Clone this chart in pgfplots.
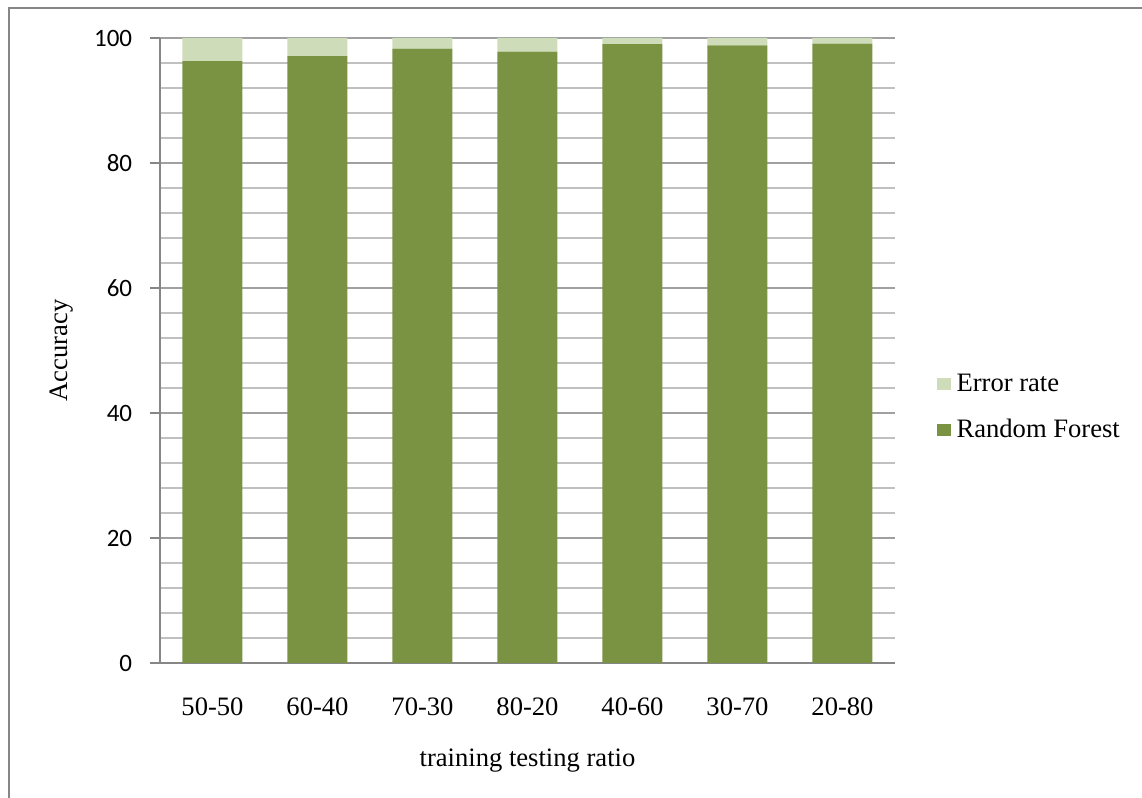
\documentclass[border=0pt]{standalone}
\usepackage{pgfplots}
\pgfplotsset{compat=1.18}
\usepackage{fontspec}
\setmainfont{Liberation Serif}
\newfontfamily\calibri{Carlito}
\definecolor{rf}{RGB}{122,147,67}
\definecolor{er}{RGB}{207,220,185}
\definecolor{axisgray}{RGB}{134,134,134}
\definecolor{gridmaj}{RGB}{160,160,160}
\definecolor{gridmin}{RGB}{192,192,192}
\begin{document}
\begin{tikzpicture}[x=1pt,y=1pt]
\useasboundingbox (0,0) rectangle (571,399);
\draw[axisgray, line width=1pt] (4.5,0) -- (4.5,395) -- (571,395);
\begin{axis}[
  at={(80pt,67.5pt)}, anchor=south west,
  scale only axis, width=367.5pt, height=312.5pt,
  xmin=-0.5, xmax=6.5, ymin=0, ymax=100,
  ybar stacked, bar width=30pt,
  xtick={0,...,6},
  xticklabels={50-50,60-40,70-30,80-20,40-60,30-70,20-80},
  ytick={0,20,...,100},
  minor ytick={4,8,12,16,24,28,32,36,44,48,52,56,64,68,72,76,84,88,92,96},
  ymajorgrids, yminorgrids,
  major grid style={gridmaj, line width=1pt},
  minor grid style={gridmin, line width=1pt},
  axis x line*=bottom, axis y line*=left,
  axis line style={axisgray, line width=1pt, -},
  x tick style={draw=none},
  y tick style={axisgray, line width=1pt},
  major tick length=5pt, minor tick length=0pt, tick align=outside,
  /pgf/number format/assume math mode=true,
  yticklabel style={font=\calibri\fontsize{12.5}{13}\selectfont, anchor=east, inner sep=0pt, xshift=-8.75pt},
  xticklabel style={font=\fontsize{13.3}{14}\selectfont, anchor=center, inner sep=0pt, yshift=-17pt},
  xlabel={training testing ratio},
  ylabel={Accuracy},
  xlabel style={font=\fontsize{13.3}{14}\selectfont, at={(axis description cs:0.5,0)}, anchor=center, yshift=-49pt},
  ylabel style={font=\fontsize{13.3}{14}\selectfont, at={(axis description cs:0,0.5)}, anchor=center, yshift=49pt},
  reverse legend,
  legend cell align=left,
  legend style={draw=none, fill=none, at={(axis description cs:1.056,0.409)}, anchor=west, inner sep=0pt,
    font=\fontsize{13.3}{14}\selectfont, row sep=10.5pt, nodes={inner sep=1pt},
    /tikz/every odd column/.append style={column sep=2pt}},
  legend image code/.code={\fill[#1,draw=none] (0pt,-3pt) rectangle (7pt,3pt);},
]
\addplot[fill=rf, draw=none] coordinates {(0,96.3) (1,97.1) (2,98.3) (3,97.8) (4,99.0) (5,98.8) (6,99.1)};
\addplot[fill=er, draw=none] coordinates {(0,3.7) (1,2.9) (2,1.7) (3,2.2) (4,1.0) (5,1.2) (6,0.9)};
\legend{Random Forest, Error rate}
\end{axis}
\end{tikzpicture}
\end{document}
